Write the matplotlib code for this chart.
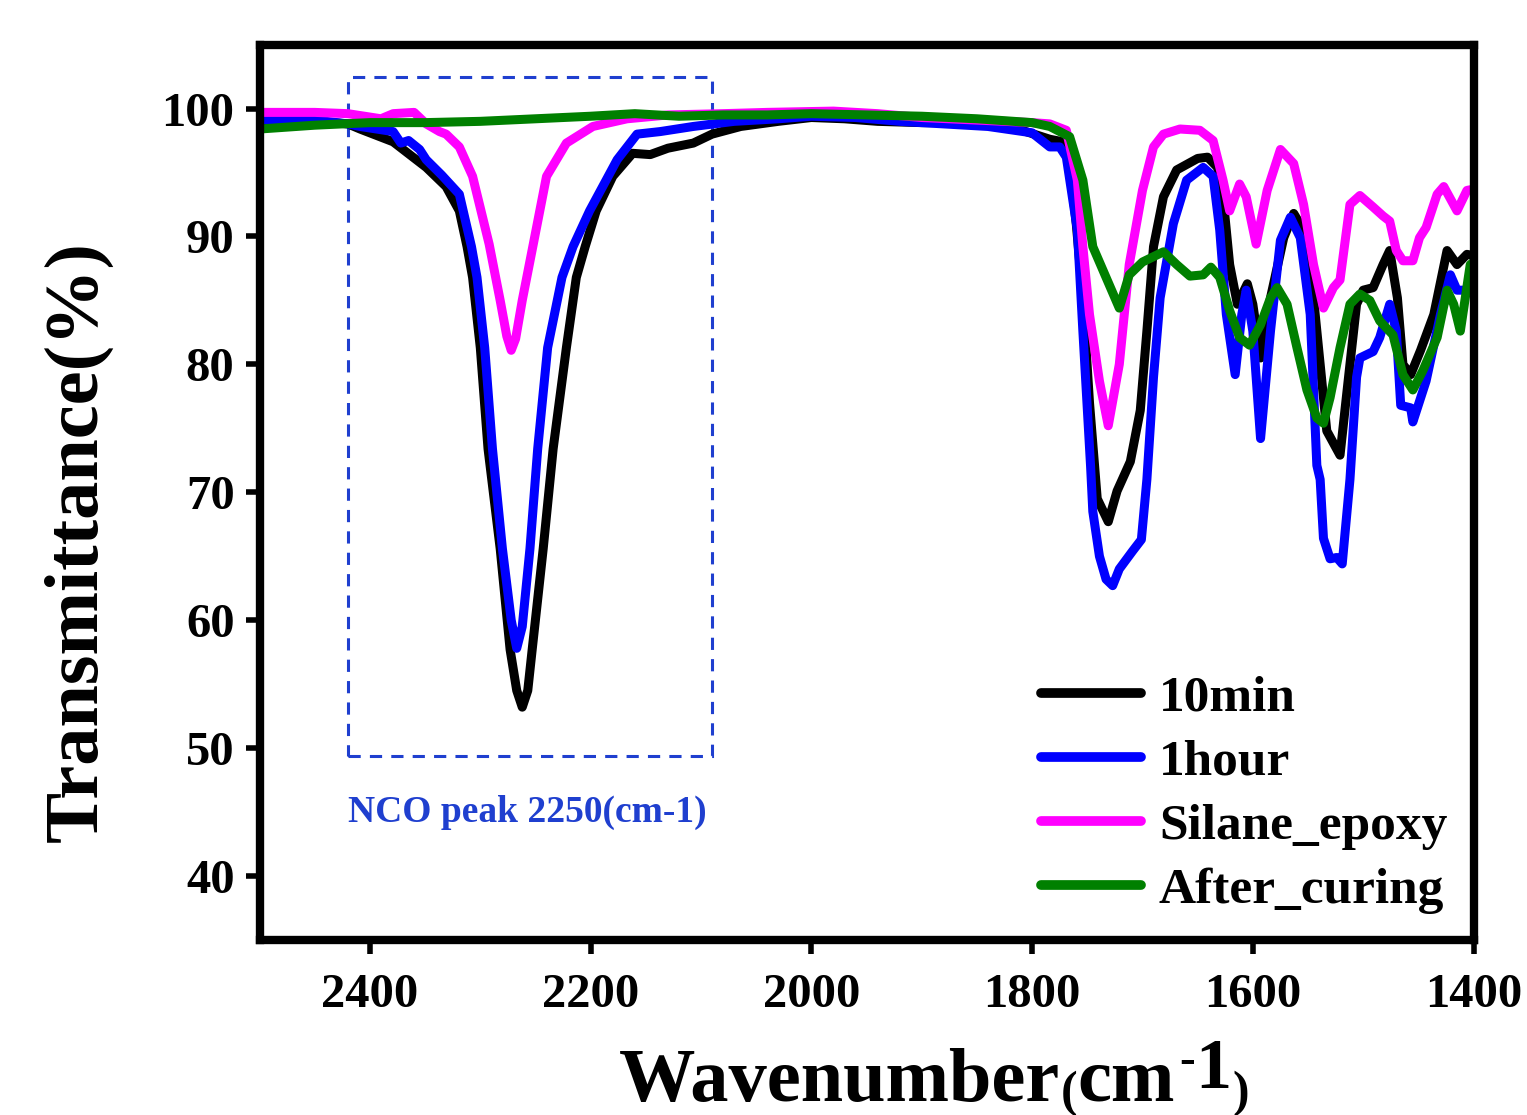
import matplotlib
matplotlib.use("Agg")
import matplotlib.pyplot as plt
from matplotlib.patches import Rectangle

# 10min
wn_10min = [2500, 2450, 2420, 2409, 2379, 2349, 2331, 2319, 2312, 2307, 2300, 2293, 2282, 2273, 2267,
            2262, 2257, 2253, 2243, 2234, 2222, 2213, 2205, 2195, 2180, 2162, 2146, 2130, 2107, 2090,
            2064, 2030, 2000, 1970, 1940, 1900, 1860, 1820, 1784, 1772, 1766, 1760, 1754, 1748, 1741,
            1731, 1723, 1711, 1702, 1696, 1690, 1681, 1669, 1650, 1641, 1632, 1627, 1621, 1614, 1605,
            1600, 1593, 1584, 1572, 1563, 1554, 1545, 1539, 1533, 1521, 1512, 1506, 1500, 1491, 1482,
            1476, 1469, 1464, 1457, 1448, 1436, 1424, 1415, 1406, 1400]
t_10min = [99.0, 99.0, 98.8, 98.4, 97.4, 95.4, 93.9, 92.0, 89.2, 86.8, 81.3, 73.4, 65.6, 57.7, 54.5,
           53.2, 54.5, 57.7, 65.6, 73.4, 81.3, 86.8, 89.2, 92.0, 94.7, 96.5, 96.4, 96.9, 97.3, 98.0,
           98.6, 99.0, 99.3, 99.2, 99.0, 98.9, 98.9, 98.6, 97.6, 97.4, 95.7, 91.0, 85.2, 77.0, 69.5,
           67.7, 70.1, 72.4, 76.4, 82.6, 89.2, 93.1, 95.2, 96.1, 96.2, 95.4, 93.1, 87.8, 84.7, 86.3,
           84.7, 80.5, 85.2, 89.9, 91.8, 90.5, 85.2, 80.0, 74.8, 72.9, 80.0, 84.7, 85.8, 86.0, 87.8,
           88.9, 85.2, 80.0, 79.2, 81.1, 83.9, 88.9, 87.8, 88.6, 88.5]

# 1hour
wn_1hour = [2500, 2450, 2420, 2409, 2379, 2372, 2365, 2355, 2349, 2335, 2319, 2308, 2303, 2296, 2289,
            2280, 2272, 2267, 2262, 2255, 2248, 2239, 2226, 2216, 2201, 2176, 2158, 2137, 2107, 2070,
            2030, 2000, 1960, 1920, 1880, 1840, 1800, 1784, 1775, 1769, 1759, 1754, 1747, 1745, 1739,
            1733, 1727, 1721, 1709, 1701, 1696, 1690, 1684, 1672, 1660, 1645, 1636, 1630, 1624, 1616,
            1610, 1606, 1600, 1593, 1584, 1575, 1566, 1557, 1548, 1542, 1539, 1536, 1530, 1524, 1519,
            1512, 1506, 1503, 1491, 1485, 1476, 1470, 1466, 1457, 1455, 1443, 1430, 1421, 1415, 1404,
            1400]
t_1hour = [99.1, 99.1, 98.8, 98.6, 98.2, 97.3, 97.5, 96.8, 96.0, 94.8, 93.3, 89.2, 86.8, 81.3, 73.4,
           65.6, 60.0, 57.8, 59.5, 65.6, 73.4, 81.3, 86.8, 89.2, 92.0, 96.0, 98.0, 98.2, 98.6, 99.0,
           99.2, 99.4, 99.3, 99.0, 98.8, 98.6, 98.1, 97.0, 97.0, 96.2, 90.5, 82.6, 72.0, 68.5, 65.0,
           63.2, 62.7, 64.0, 65.4, 66.3, 71.0, 79.0, 85.2, 91.0, 94.4, 95.4, 94.7, 90.5, 83.9, 79.2,
           83.9, 85.8, 82.6, 74.2, 82.6, 89.7, 91.5, 89.9, 83.9, 72.1, 71.0, 66.4, 64.8, 64.9, 64.4,
           71.0, 79.0, 80.5, 81.0, 82.1, 84.7, 82.6, 76.8, 76.6, 75.5, 78.7, 83.9, 87.0, 85.8, 85.8,
           86.0]

# Silane_epoxy
wn_silane = [2500, 2450, 2420, 2390, 2379, 2360, 2349, 2337, 2331, 2319, 2307, 2292, 2282, 2276, 2272,
             2268, 2262, 2252, 2240, 2222, 2198, 2167, 2130, 2080, 2040, 1980, 1940, 1900, 1850, 1800,
             1784, 1769, 1759, 1754, 1748, 1739, 1731, 1721, 1712, 1700, 1690, 1681, 1666, 1648, 1636,
             1627, 1621, 1612, 1606, 1597, 1587, 1575, 1563, 1554, 1545, 1536, 1527, 1521, 1512, 1503,
             1491, 1482, 1476, 1470, 1464, 1455, 1449, 1443, 1433, 1427, 1415, 1406, 1400]
t_silane = [99.7, 99.7, 99.6, 99.2, 99.6, 99.7, 98.8, 98.2, 98.0, 97.0, 94.7, 89.4, 85.0, 82.2, 81.1,
            82.0, 85.0, 89.4, 94.7, 97.3, 98.6, 99.2, 99.5, 99.6, 99.7, 99.8, 99.6, 99.3, 99.1, 98.9,
            98.8, 98.3, 94.4, 89.2, 83.9, 78.7, 75.2, 80.0, 87.8, 93.6, 97.0, 98.0, 98.4, 98.3, 97.5,
            94.4, 92.0, 94.1, 93.1, 89.4, 93.6, 96.8, 95.7, 92.5, 87.8, 84.4, 86.0, 86.6, 92.5, 93.2,
            92.3, 91.6, 91.2, 88.9, 88.1, 88.1, 89.9, 90.7, 93.3, 93.9, 92.0, 93.6, 93.7]

# After_curing
wn_cured = [2500, 2450, 2400, 2350, 2300, 2250, 2200, 2160, 2120, 2080, 2040, 2000, 1950, 1900, 1850,
            1800, 1784, 1766, 1754, 1745, 1736, 1721, 1712, 1700, 1681, 1669, 1657, 1645, 1638, 1630,
            1621, 1612, 1603, 1593, 1584, 1578, 1569, 1560, 1551, 1542, 1536, 1530, 1521, 1512, 1503,
            1494, 1485, 1473, 1464, 1455, 1446, 1433, 1424, 1418, 1412, 1403, 1400]
t_cured = [98.4, 98.7, 98.9, 98.9, 99.0, 99.2, 99.4, 99.6, 99.4, 99.5, 99.5, 99.6, 99.5, 99.4, 99.2,
           98.9, 98.6, 97.8, 94.4, 89.2, 87.4, 84.4, 87.0, 88.0, 88.8, 87.8, 86.9, 87.0, 87.6, 86.8,
           84.2, 82.1, 81.5, 83.1, 85.2, 86.0, 84.7, 81.3, 78.0, 75.8, 75.4, 77.4, 81.3, 84.7, 85.5,
           85.0, 83.4, 82.3, 79.2, 78.0, 79.5, 82.1, 85.8, 84.7, 82.6, 87.8, 88.0]

series = [
    (wn_10min, t_10min, "black", "10min"),
    (wn_1hour, t_1hour, "blue", "1hour"),
    (wn_silane, t_silane, "magenta", "Silane_epoxy"),
    (wn_cured, t_cured, "green", "After_curing"),
]

box_color = "#1f3fcf"

plt.rcParams["font.family"] = ["Liberation Serif", "DejaVu Serif"]
plt.rcParams["font.weight"] = "bold"

fig = plt.figure(figsize=(15.27, 11.15), dpi=100)
ax = fig.add_axes([0.170, 0.157, 0.795, 0.803])

for wn, t, color, label in series:
    ax.plot(wn, t, color=color, linewidth=6.5, label=label,
            solid_joinstyle="round", solid_capstyle="round")

# NCO region box
ax.add_patch(Rectangle((2420, 49.4), -330, 53.1, fill=False, edgecolor=box_color,
                       linestyle=(0, (4, 3)), linewidth=2.2))
ax.text(2257, 45.0, "NCO peak 2250(cm-1)", color=box_color, fontsize=27,
        fontweight="bold", ha="center", va="center")

ax.set_xlim(2500, 1400)
ax.set_ylim(35, 105)
ax.set_xticks([2400, 2200, 2000, 1800, 1600, 1400])
ax.set_yticks([40, 50, 60, 70, 80, 90, 100])

for sp in ax.spines.values():
    sp.set_linewidth(6)
ax.tick_params(axis="both", direction="out", length=10, width=4, labelsize=35)
ax.tick_params(axis="x", pad=14)
ax.tick_params(axis="y", pad=8)
for lbl in ax.get_xticklabels() + ax.get_yticklabels():
    lbl.set_fontweight("bold")

ax.set_ylabel("Transmittance(%)", fontsize=55, fontweight="bold")
ax.yaxis.set_label_coords(-0.121, 0.445)

# x label built from pieces: small parentheses, large superscript
base_y = 0.013
t1 = fig.text(0.405, base_y, "Wavenumber", fontsize=55, fontweight="bold", va="baseline")
t2 = ax.annotate("(", xy=(1, base_y), xycoords=(t1, "figure fraction"), xytext=(1, -4),
                 textcoords="offset points", fontsize=36, fontweight="bold", va="baseline")
t3 = ax.annotate("cm", xy=(1, base_y), xycoords=(t2, "figure fraction"), xytext=(0, 0),
                 textcoords="offset points", fontsize=55, fontweight="bold", va="baseline")
t4 = ax.annotate("-", xy=(1, base_y), xycoords=(t3, "figure fraction"), xytext=(3, 20),
                 textcoords="offset points", fontsize=34, fontweight="bold", va="baseline")
t5 = ax.annotate("1", xy=(1, base_y), xycoords=(t4, "figure fraction"), xytext=(0, 9),
                 textcoords="offset points", fontsize=52, fontweight="bold", va="baseline")
t6 = ax.annotate(")", xy=(1, base_y), xycoords=(t5, "figure fraction"), xytext=(1, -4),
                 textcoords="offset points", fontsize=36, fontweight="bold", va="baseline")

leg = ax.legend(loc="lower right", bbox_to_anchor=(1.0, 0.0), frameon=False,
                fontsize=37, handlelength=1.95, handletextpad=0.35, labelspacing=0.33,
                borderaxespad=0.11)
for line in leg.get_lines():
    line.set_linewidth(7)

fig.savefig("out.png", dpi=100)
